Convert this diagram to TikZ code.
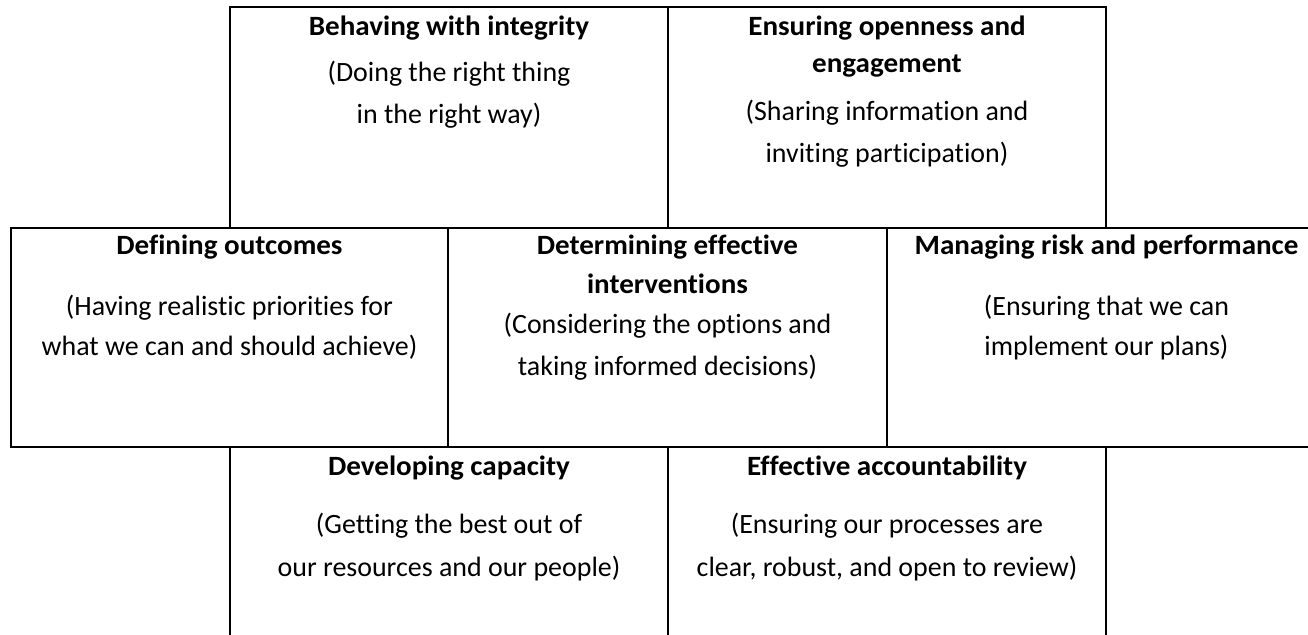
\documentclass[tikz,border=0pt]{standalone}
\usepackage{fontspec}
\setmainfont{Carlito}[Ligatures=NoCommon, BoldFeatures={FakeStretch=1.04}]
\usepackage{tikz}
\usetikzlibrary{positioning, calc}
\newcommand{\celltext}[1]{\begin{tabular}[t]{@{}c@{}}#1\end{tabular}}

\begin{document}
\begin{tikzpicture}[
    x=0.5691pt, y=-0.5691pt,
    cell/.style={draw, line width=1.15pt, inner sep=0, outer sep=0, minimum height=219*0.5691pt},
    txt/.style={inner sep=0, anchor=base, font=\fontsize{15.9pt}{21.06pt}\selectfont}
]
    \clip (0,0) rectangle (1308,635);
    \useasboundingbox (0,0) rectangle (1308,635);

    % top row
    \node[cell, minimum width=438*0.5691pt, minimum height=221*0.5691pt] (integ) at (449,117.5) {};
    \node[cell, minimum width=438*0.5691pt, minimum height=221*0.5691pt] (open) at (887,117.5) {};
    % middle row
    \node[cell, minimum width=437*0.5691pt] (outc) at (229.5,337.5) {};
    \node[cell, minimum width=439*0.5691pt] (interv) at (667.5,337.5) {};
    \node[cell, minimum width=439*0.5691pt] (risk) at (1106.5,337.5) {};
    % bottom row
    \node[cell, minimum width=438*0.5691pt] (capac) at (449,556.5) {};
    \node[cell, minimum width=438*0.5691pt] (accnt) at (887,556.5) {};

    \node[txt] (integT) at ($(integ.north)+(0,29)$) {\celltext{\textbf{Behaving with integrity}\\[5.1pt]
        (Doing the right thing\\[2.8pt] in the right way)}};
    \node[txt] (openT) at ($(open.north)+(0,28.5)$) {\celltext{\textbf{Ensuring openness and}\\
        \textbf{engagement}\\[6.3pt] (Sharing information and\\[2.8pt] inviting participation)}};
    \node[txt] (outcT) at ($(outc.north)+(0,27)$) {\celltext{\textbf{Defining outcomes}\\[13.1pt]
        (Having realistic priorities for\\[1.7pt] what we can and should achieve)}};
    \node[txt] (intervT) at ($(interv.north)+(0,27)$) {\celltext{\textbf{Determining effective}\\[1.1pt]
        \textbf{interventions}\\[1.7pt] (Considering the options and\\[2.8pt] taking informed decisions)}};
    \node[txt] (riskT) at ($(risk.north)+(0,27)$) {\celltext{\textbf{Managing risk and performance}\\[13.1pt]
        (Ensuring that we can\\[1.7pt] implement our plans)}};
    \node[txt] (capacT) at ($(capac.north)+(0,28)$) {\celltext{\textbf{Developing capacity}\\[12.5pt]
        (Getting the best out of\\[3.4pt] our resources and our people)}};
    \node[txt] (accntT) at ($(accnt.north)+(0,28)$) {\celltext{\textbf{Effective accountability}\\[12.5pt]
        (Ensuring our processes are\\[3.4pt] clear, robust, and open to review)}};
\end{tikzpicture}
\end{document}
